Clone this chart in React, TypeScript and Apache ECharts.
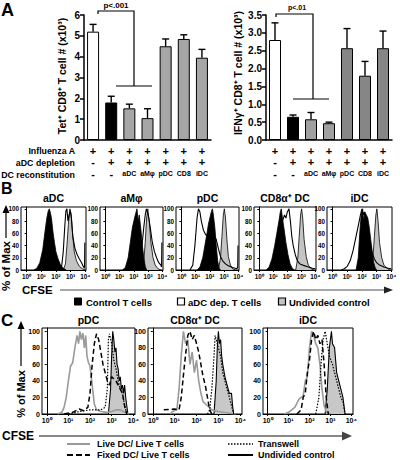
import React, { useEffect, useRef } from 'react';
import * as echarts from 'echarts';

const FONT = "'Liberation Sans', Arial, Helvetica, sans-serif";

// ---------- Panel A data ----------
const conditions = ['Infected', 'Depleted', 'aDC', 'aMφ', 'pDC', 'CD8', 'iDC'];
const influenzaA = ['+', '+', '+', '+', '+', '+', '+'];
const aDCDepletion = ['-', '+', '+', '+', '+', '+', '+'];
const dcReconstitution = ['-', '-', 'aDC', 'aMφ', 'pDC', 'CD8', 'iDC'];
const tetMean = [5.2, 1.8, 1.52, 1.05, 4.5, 4.85, 3.95];
const tetUpper = [5.55, 2.1, 1.72, 1.5, 4.85, 5.05, 4.35];
const ifnMean = [2.8, 0.65, 0.58, 0.47, 2.57, 1.8, 2.57];
const ifnUpper = [3.28, 0.7, 0.77, 0.5, 3.12, 2.2, 3.05];
const tetTicks = [0, 6, 1];
const ifnTicks = [0, 3.5, 0.5];

// ---------- Panel B data: [log10 CFSE, % of Max] ----------
const bTitles = ['aDC', 'aMφ', 'pDC', 'CD8α⁺ DC', 'iDC'];
const bAdcControl = [[0.5,0],[0.7,3],[0.9,12],[1.1,33],[1.25,62],[1.38,85],[1.48,97],[1.55,100],[1.62,94],[1.7,84],[1.8,62],[1.9,45],[2.0,30],[2.15,18],[2.3,9],[2.5,3],[2.7,0]];
const bAdcDep = [[2.2,0],[2.4,8],[2.5,30],[2.6,70],[2.68,97],[2.75,100],[2.82,80],[2.9,90],[2.98,97],[3.05,85],[3.15,55],[3.3,35],[3.45,25],[3.6,18],[3.75,12],[3.88,5],[3.95,3],[3.97,45],[4.0,45]];
const bAdcUndiv = [[2.5,0],[2.65,10],[2.75,40],[2.85,75],[2.95,100],[3.05,90],[3.15,55],[3.25,30],[3.4,15],[3.6,6],[3.8,2],[4.0,0]];
const bAmControl = [[1.2,0],[1.4,4],[1.6,20],[1.75,45],[1.9,70],[2.0,80],[2.1,90],[2.22,100],[2.3,80],[2.38,90],[2.5,65],[2.6,40],[2.7,20],[2.8,6],[2.9,0]];
const bAmDep = [[2.2,0],[2.4,10],[2.55,35],[2.7,70],[2.8,90],[2.88,100],[2.95,95],[3.05,85],[3.15,70],[3.3,45],[3.45,30],[3.6,20],[3.75,12],[3.9,8],[3.95,5],[3.97,45],[4.0,45]];
const bAmUndiv = [[2.55,0],[2.7,15],[2.8,45],[2.9,85],[2.98,100],[3.08,80],[3.2,45],[3.35,20],[3.5,8],[3.7,2],[3.9,0]];
const bPdcControl = [[1.1,0],[1.3,5],[1.5,20],[1.65,40],[1.8,60],[1.9,75],[2.0,85],[2.1,95],[2.18,100],[2.25,90],[2.35,70],[2.45,40],[2.55,15],[2.65,3],[2.75,0]];
const bPdcDep = [[0.6,0],[0.8,8],[0.95,40],[1.1,85],[1.2,100],[1.3,95],[1.4,80],[1.55,65],[1.7,58],[1.85,55],[2.0,60],[2.15,58],[2.3,55],[2.45,50],[2.6,35],[2.75,22],[2.9,15],[3.1,10],[3.3,7],[3.6,4],[3.9,2],[3.96,5],[3.98,40],[4.0,40]];
const bPdcUndiv = [[2.6,0],[2.75,20],[2.85,55],[2.95,90],[3.02,100],[3.1,85],[3.2,50],[3.3,22],[3.45,8],[3.6,2],[3.8,0]];
const bCd8Control = [[0.5,0],[0.7,5],[0.9,18],[1.1,40],[1.25,60],[1.4,80],[1.5,95],[1.57,100],[1.65,85],[1.75,70],[1.9,45],[2.05,25],[2.2,10],[2.35,3],[2.5,0]];
const bCd8Dep = [[0.85,0],[1.05,8],[1.25,30],[1.45,60],[1.65,80],[1.8,90],[1.9,85],[2.0,95],[2.12,100],[2.22,80],[2.32,55],[2.42,40],[2.57,25],[2.72,15],[2.9,10],[3.1,8],[3.5,5],[3.8,3],[4.0,2]];
const bCd8Undiv = [[2.6,0],[2.75,20],[2.85,55],[2.95,90],[3.02,100],[3.1,85],[3.2,50],[3.35,22],[3.5,8],[3.7,2],[3.9,0]];
const bIdcControl = [[1.6,0],[1.75,20],[1.85,60],[1.95,90],[2.05,100],[2.12,80],[2.2,95],[2.3,90],[2.4,85],[2.5,70],[2.6,50],[2.7,30],[2.8,12],[2.9,4],[3.0,0]];
const bIdcDep = [[0.6,0],[0.8,2],[1.0,6],[1.2,15],[1.4,32],[1.6,55],[1.75,72],[1.9,90],[2.0,100],[2.08,90],[2.15,95],[2.25,85],[2.4,65],[2.55,45],[2.7,28],[2.85,18],[3.0,12],[3.2,8],[3.5,5],[3.8,3],[4.0,2]];
const bIdcUndiv = [[2.6,0],[2.75,20],[2.85,55],[2.95,90],[3.02,100],[3.1,80],[3.2,45],[3.35,20],[3.5,8],[3.7,3],[3.9,0]];

// ---------- Panel C data: [log10 CFSE, % of Max] ----------
const cTitles = ['pDC', 'CD8α⁺ DC', 'iDC'];
const cPdcLive = [[0.5,0],[0.7,2],[0.8,8],[0.9,20],[1.0,40],[1.1,58],[1.2,62],[1.3,80],[1.4,95],[1.47,85],[1.53,100],[1.6,90],[1.67,98],[1.74,80],[1.8,95],[1.86,70],[1.93,62],[2.0,58],[2.1,35],[2.2,12],[2.3,5],[2.5,3],[2.8,2],[3.0,3],[3.2,5],[3.4,5],[3.6,2],[3.8,0]];
const cPdcFixed = [[0.8,0],[1.2,2],[1.5,6],[1.7,4],[1.9,8],[2.0,25],[2.1,60],[2.2,85],[2.3,97],[2.4,90],[2.5,75],[2.6,60],[2.7,50],[2.8,40],[2.9,35],[3.0,45],[3.2,40],[3.4,30],[3.5,25],[3.6,10],[3.7,0]];
const cPdcTranswell = [[1.0,0],[1.5,3],[2.0,5],[2.5,5],[2.7,8],[2.8,30],[2.85,90],[2.9,97],[3.0,85],[3.1,65],[3.2,55],[3.3,40],[3.4,30],[3.5,25],[3.6,10],[3.7,0]];
const cPdcUndiv = [[2.85,0],[2.95,30],[3.0,70],[3.05,100],[3.1,90],[3.15,75],[3.2,80],[3.25,60],[3.3,55],[3.35,40],[3.4,45],[3.45,30],[3.5,35],[3.55,25],[3.6,35],[3.65,20],[3.7,10],[3.75,0]];
const cCd8Live = [[0.8,0],[0.9,3],[1.1,5],[1.2,30],[1.3,70],[1.4,100],[1.5,85],[1.6,90],[1.7,60],[1.8,75],[1.9,50],[2.0,65],[2.1,40],[2.2,25],[2.3,15],[2.5,10],[2.7,5],[3.0,3],[3.5,1],[3.8,0]];
const cCd8Fixed = [[0.5,5],[1.0,6],[1.2,5],[1.3,20],[1.45,60],[1.6,95],[1.7,100],[1.8,90],[1.9,95],[2.0,85],[2.1,75],[2.2,60],[2.3,45],[2.4,35],[2.5,20],[2.6,5],[2.7,0]];
const cCd8Transwell = [[2.5,0],[2.6,5],[2.7,30],[2.8,70],[2.85,95],[2.9,90],[3.0,80],[3.1,70],[3.2,50],[3.3,40],[3.4,30],[3.5,20],[3.6,10],[3.7,0]];
const cCd8Undiv = [[2.8,0],[2.9,40],[2.95,80],[3.0,100],[3.05,85],[3.1,90],[3.15,70],[3.2,60],[3.3,45],[3.4,35],[3.5,25],[3.6,25],[3.65,10],[3.7,0]];
const cIdcLive = [[0.8,0],[1.0,2],[1.3,8],[1.5,18],[1.7,22],[1.8,40],[1.9,45],[2.0,80],[2.1,100],[2.2,95],[2.3,85],[2.4,80],[2.5,60],[2.6,30],[2.7,10],[2.8,3],[3.0,0]];
const cIdcFixed = [[1.4,0],[1.6,5],[1.7,20],[1.8,25],[1.9,50],[2.0,65],[2.1,90],[2.2,100],[2.3,90],[2.4,95],[2.5,85],[2.6,90],[2.7,60],[2.8,20],[2.9,0]];
const cIdcTranswell = [[2.3,0],[2.45,20],[2.55,60],[2.65,90],[2.75,100],[2.85,85],[2.95,70],[3.1,60],[3.3,40],[3.5,20],[3.6,15],[3.7,0]];
const cIdcUndiv = [[2.75,0],[2.85,30],[2.95,80],[3.05,100],[3.1,85],[3.2,80],[3.3,50],[3.4,40],[3.5,30],[3.55,25],[3.6,20],[3.7,0]];

const decadeValues = [0, 1, 2, 3, 4];
const decadeTicks = ['10⁰', '10¹', '10²', '10³', '10⁴'];
const percentValues = [0, 20, 40, 60, 80, 100];

// ---------- layout ----------
const bBoxes = [[21, 65], [100, 63], [176, 63], [254, 62], [327, 65]];
const cBoxes = [[42, 93], [148, 94], [263, 90]];
const leftBarColors = ['#ffffff', '#000000', '#a6a6a6', '#a6a6a6', '#a6a6a6', '#a6a6a6', '#a6a6a6'];
const rightBarColors = ['#ffffff', '#000000', '#a0a0a0', '#a0a0a0', '#868686', '#868686', '#868686'];

function buildOption() {
  const grid: any[] = [];
  const xAxis: any[] = [];
  const yAxis: any[] = [];
  const series: any[] = [];
  const graphic: any[] = [];

  const black = { color: '#000', width: 1.5 };

  // Panel A grids
  const aGrids = [[84, 127], [266, 126]];
  aGrids.forEach(([left, width], k) => {
    grid.push({ left, top: 15, width, height: 125 });
    xAxis.push({
      type: 'category', gridIndex: k, data: conditions,
      axisLine: { lineStyle: black }, axisTick: { length: 3, lineStyle: black },
      axisLabel: {
        interval: 0, margin: 5, color: '#000',
        formatter: (_v: string, i: number) => {
          const r = dcReconstitution[i];
          const last = r.length > 1 ? `{n|${r}}` : `{p|${r}}`;
          return `{p|${influenzaA[i]}}\n{p|${aDCDepletion[i]}}\n${last}`;
        },
        rich: {
          p: { fontSize: 11, fontWeight: 'bold', fontFamily: FONT, lineHeight: 11.5, color: '#000' },
          n: { fontSize: 7, fontWeight: 'bold', fontFamily: FONT, lineHeight: 11.5, color: '#000' },
        },
      },
    });
    const t = k === 0 ? tetTicks : ifnTicks;
    yAxis.push({
      type: 'value', gridIndex: k, min: t[0], max: t[1], interval: t[2],
      axisLine: { show: true, lineStyle: black }, axisTick: { show: true, length: 4, lineStyle: black },
      splitLine: { show: false },
      axisLabel: {
        color: '#000', fontSize: 10, fontWeight: 'bold', fontFamily: FONT, margin: 4,
        formatter: (v: number) => (k === 0 ? String(v) : v.toFixed(1)),
      },
    });
  });

  const errRender = (params: any, api: any) => {
    const x = api.value(0);
    const p1 = api.coord([x, api.value(1)]);
    const p2 = api.coord([x, api.value(2)]);
    const st = { stroke: '#000', lineWidth: 1.4 };
    return {
      type: 'group',
      children: [
        { type: 'line', shape: { x1: p1[0], y1: p1[1], x2: p2[0], y2: p2[1] }, style: st },
        { type: 'line', shape: { x1: p2[0] - 3.5, y1: p2[1], x2: p2[0] + 3.5, y2: p2[1] }, style: st },
      ],
    };
  };

  [[tetMean, tetUpper, leftBarColors], [ifnMean, ifnUpper, rightBarColors]].forEach(([mean, up, cols]: any, k) => {
    series.push({
      type: 'bar', xAxisIndex: k, yAxisIndex: k, barWidth: 12, silent: true,
      data: mean.map((v: number, i: number) => ({ value: v, itemStyle: { color: cols[i] } })),
      itemStyle: { borderColor: '#000', borderWidth: 1 },
      z: 2,
    });
    series.push({
      type: 'custom', xAxisIndex: k, yAxisIndex: k, silent: true, z: 5,
      data: mean.map((m: number, i: number) => [i, m, up[i]]),
      encode: { x: 0, y: [1, 2] },
      renderItem: errRender,
    });
  });

  // histogram axes helper
  const histAxes = (left: number, width: number, top: number, height: number, xmin: number, xmax: number, ymax: number, fs: number) => {
    const gi = grid.length;
    grid.push({ left, top, width, height, show: true, borderColor: '#000', borderWidth: 1, backgroundColor: 'transparent' });
    xAxis.push({
      type: 'value', gridIndex: gi, min: xmin, max: xmax,
      axisLine: { lineStyle: { color: '#000', width: 1 } },
      axisTick: { length: 2, lineStyle: { color: '#000' }, customValues: decadeValues },
      splitLine: { show: false },
      axisLabel: {
        color: '#000', fontSize: fs, fontWeight: 'bold', fontFamily: FONT, margin: 3,
        customValues: decadeValues, formatter: (v: number) => decadeTicks[Math.round(v)] || '',
      },
    });
    yAxis.push({
      type: 'value', gridIndex: gi, min: 0, max: ymax,
      axisLine: { show: true, lineStyle: { color: '#000', width: 1 } },
      axisTick: { show: true, length: 2, lineStyle: { color: '#000' }, customValues: percentValues },
      splitLine: { show: false },
      axisLabel: { color: '#000', fontSize: fs, fontWeight: 'bold', fontFamily: FONT, margin: 2, customValues: percentValues, formatter: (v: number) => String(v) },
    });
    return gi;
  };

  const line = (gi: number, data: number[][], lineStyle: any, area?: string) => {
    series.push({
      type: 'line', xAxisIndex: gi, yAxisIndex: gi, data, symbol: 'none', showSymbol: false, silent: true,
      lineStyle, areaStyle: area ? { color: area, opacity: 1 } : undefined, z: 3,
    });
  };

  // Panel B
  const bSets = [
    [bAdcUndiv, bAdcControl, bAdcDep],
    [bAmUndiv, bAmControl, bAmDep],
    [bPdcUndiv, bPdcControl, bPdcDep],
    [bCd8Undiv, bCd8Control, bCd8Dep],
    [bIdcUndiv, bIdcControl, bIdcDep],
  ];
  bBoxes.forEach(([left, width], k) => {
    const gi = histAxes(left, width, 207, 63, -0.38, 4.05, 103, 6.3);
    const [u, c, d] = bSets[k];
    line(gi, u, { color: '#000', width: 0.8 }, '#c4c4c4');
    line(gi, c, { color: '#000', width: 0.8 }, '#000');
    line(gi, d, { color: '#000', width: 1.1 });
    graphic.push({ type: 'text', x: left + width / 2, y: 198, style: { text: bTitles[k], fontSize: 10.5, fontWeight: 'bold', fontFamily: FONT, fill: '#000', align: 'center', verticalAlign: 'middle' } });
  });

  // Panel C
  const cSets = [
    [cPdcUndiv, cPdcLive, cPdcFixed, cPdcTranswell],
    [cCd8Undiv, cCd8Live, cCd8Fixed, cCd8Transwell],
    [cIdcUndiv, cIdcLive, cIdcFixed, cIdcTranswell],
  ];
  cBoxes.forEach(([left, width], k) => {
    const gi = histAxes(left, width, 328, 86, -0.22, 4.08, 104, 7);
    const [u, l, f, t] = cSets[k];
    line(gi, u, { color: '#000', width: 1.1 }, '#c8c8c8');
    line(gi, l, { color: '#9a9a9a', width: 1.6 });
    line(gi, f, { color: '#000', width: 1.5, type: [5, 3] });
    line(gi, t, { color: '#000', width: 1.2, type: [1.5, 1.5] });
    graphic.push({ type: 'text', x: left + width / 2, y: 320, style: { text: cTitles[k], fontSize: 10.5, fontWeight: 'bold', fontFamily: FONT, fill: '#000', align: 'center', verticalAlign: 'middle' } });
  });

  // ---------- annotations ----------
  const txt = (x: number, y: number, text: string, fontSize: number, align = 'left', extra: any = {}) => ({
    type: 'text', x, y, ...extra,
    style: { text, fontSize, fontWeight: 'bold', fontFamily: FONT, fill: '#000', align, verticalAlign: 'middle' },
  });
  graphic.push(txt(1, 10, 'A', 18));
  graphic.push(txt(1, 188, 'B', 16));
  graphic.push(txt(1, 320, 'C', 17));

  graphic.push(txt(62, 76, 'Tet⁺ CD8⁺ T cell # (x10³)', 10.5, 'center', { rotation: Math.PI / 2 }));
  graphic.push(txt(238, 73, 'IFNγ⁺ CD8⁺ T cell # (x10³)', 10.5, 'center', { rotation: Math.PI / 2 }));

  graphic.push(txt(75, 151, 'Influenza A', 8.8, 'right'));
  graphic.push(txt(75, 163, 'aDC depletion', 8.8, 'right'));
  graphic.push(txt(75, 174.5, 'DC reconstitution', 8.8, 'right'));

  // p-value brackets
  graphic.push({ type: 'polyline', shape: { points: [[98, 14], [98, 11], [134, 11], [134, 86]] }, style: { stroke: '#000', lineWidth: 1.2, fill: null } });
  graphic.push({ type: 'line', shape: { x1: 116, y1: 86, x2: 152, y2: 86 }, style: { stroke: '#000', lineWidth: 1.2 } });
  graphic.push(txt(116, 5, 'p<.001', 8, 'center'));
  graphic.push({ type: 'polyline', shape: { points: [[276, 17], [276, 14], [313, 14], [313, 99]] }, style: { stroke: '#000', lineWidth: 1.2, fill: null } });
  graphic.push({ type: 'line', shape: { x1: 293, y1: 99, x2: 329, y2: 99 }, style: { stroke: '#000', lineWidth: 1.2 } });
  graphic.push(txt(297, 7.5, 'p<.01', 7, 'center'));

  // B axis annotations
  graphic.push(txt(6, 266, '% of Max', 11.5, 'center', { rotation: Math.PI / 2 }));
  graphic.push({ type: 'line', shape: { x1: 6, y1: 238, x2: 6, y2: 212 }, style: { stroke: '#000', lineWidth: 1.2 } });
  graphic.push({ type: 'polygon', shape: { points: [[2.5, 213], [6, 205], [9.5, 213]] }, style: { fill: '#000' } });
  graphic.push(txt(22, 290, 'CFSE', 11.5));
  graphic.push({ type: 'line', shape: { x1: 60, y1: 290, x2: 386, y2: 290 }, style: { stroke: '#888', lineWidth: 1.3 } });
  graphic.push({ type: 'polygon', shape: { points: [[384, 286.5], [393, 290], [384, 293.5]] }, style: { fill: '#222' } });

  // B legend
  graphic.push({ type: 'rect', shape: { x: 74.5, y: 298, width: 7, height: 7 }, style: { fill: '#000', stroke: '#000', lineWidth: 1 } });
  graphic.push(txt(86, 302, 'Control T cells', 9.5));
  graphic.push({ type: 'rect', shape: { x: 177.5, y: 298, width: 7, height: 7 }, style: { fill: '#fff', stroke: '#000', lineWidth: 1.2 } });
  graphic.push(txt(188, 302, 'aDC dep. T cells', 9.5));
  graphic.push({ type: 'rect', shape: { x: 278.5, y: 298, width: 7, height: 7 }, style: { fill: '#c4c4c4', stroke: '#000', lineWidth: 1.2 } });
  graphic.push(txt(289, 302, 'Undivided control', 9.5));

  // C axis annotations
  graphic.push(txt(21, 394, '% of Max', 11, 'center', { rotation: Math.PI / 2 }));
  graphic.push({ type: 'line', shape: { x1: 21, y1: 366, x2: 21, y2: 328 }, style: { stroke: '#000', lineWidth: 1.2 } });
  graphic.push({ type: 'polygon', shape: { points: [[17.5, 329], [21, 321], [24.5, 329]] }, style: { fill: '#000' } });
  graphic.push(txt(2, 436, 'CFSE', 12));
  graphic.push({ type: 'line', shape: { x1: 39, y1: 436, x2: 344, y2: 436 }, style: { stroke: '#888', lineWidth: 2 } });
  graphic.push({ type: 'polygon', shape: { points: [[342, 431.5], [352, 436], [342, 440.5]] }, style: { fill: '#444' } });

  // C legend
  graphic.push({ type: 'line', shape: { x1: 67, y1: 444, x2: 90, y2: 444 }, style: { stroke: '#9a9a9a', lineWidth: 2 } });
  graphic.push(txt(97, 444, 'Live DC/ Live T cells', 9));
  graphic.push({ type: 'line', shape: { x1: 67, y1: 455, x2: 90, y2: 455 }, style: { stroke: '#000', lineWidth: 2, lineDash: [6, 3] } });
  graphic.push(txt(97, 455, 'Fixed DC/ Live T cells', 9));
  graphic.push({ type: 'line', shape: { x1: 228, y1: 444, x2: 253, y2: 444 }, style: { stroke: '#000', lineWidth: 1.5, lineDash: [1.5, 1.5] } });
  graphic.push(txt(258, 444, 'Transwell', 9));
  graphic.push({ type: 'line', shape: { x1: 228, y1: 455, x2: 253, y2: 455 }, style: { stroke: '#000', lineWidth: 2 } });
  graphic.push(txt(258, 455, 'Undivided control', 9));

  return {
    animation: false,
    backgroundColor: '#fff',
    textStyle: { fontFamily: FONT },
    grid, xAxis, yAxis, series, graphic,
  };
}

export default function App() {
  const ref = useRef<HTMLDivElement>(null);
  useEffect(() => {
    if (!ref.current) return;
    const chart = echarts.init(ref.current, undefined, { renderer: 'svg' });
    chart.setOption(buildOption() as any);
    return () => chart.dispose();
  }, []);
  return <div ref={ref} style={{ position: 'fixed', left: 0, top: 0, width: 400, height: 460 }} />;
}
